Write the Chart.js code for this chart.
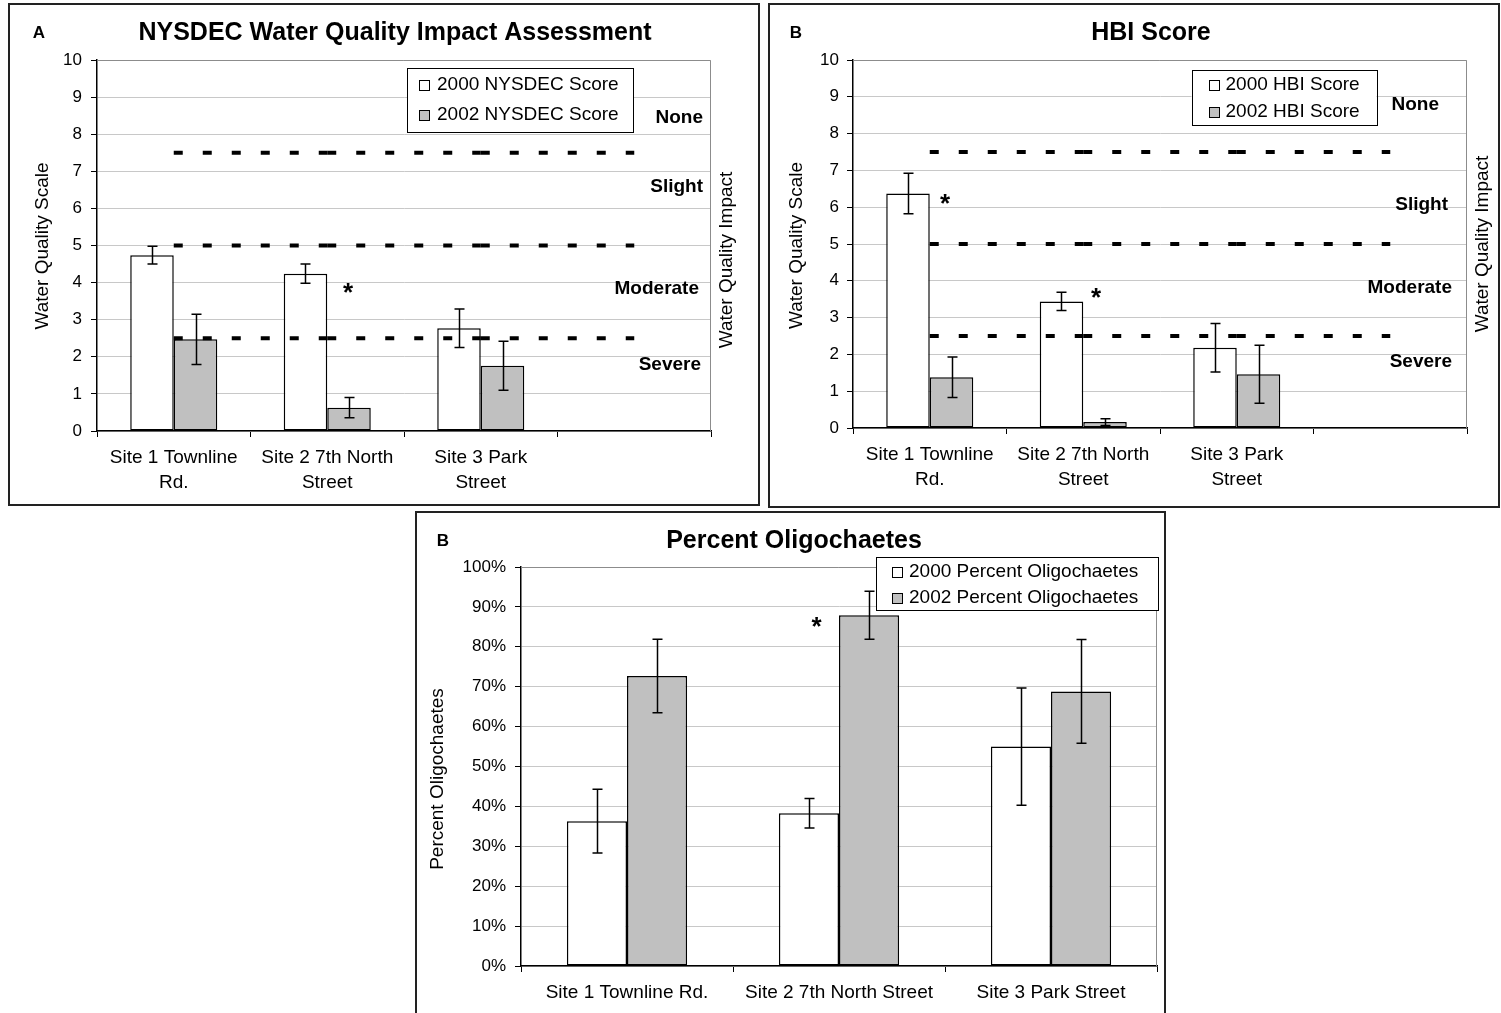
<!DOCTYPE html>
<html>
<head>
<meta charset="utf-8">
<script src="https://cdn.jsdelivr.net/npm/chart.js@4.4.1/dist/chart.umd.min.js"></script>
<style>
  html, body { margin: 0; padding: 0; background: #fff; }
  body { width: 1501px; height: 1013px; position: relative; overflow: hidden; }
  .box { position: absolute; box-sizing: border-box; border: 2px solid #222; }
  canvas { position: absolute; }
</style>
</head>
<body>
<div class="box" style="left:8px;top:3px;width:752px;height:503px"></div>
<div class="box" style="left:768px;top:3px;width:732px;height:505px"></div>
<div class="box" style="left:415px;top:511px;width:751px;height:520px"></div>
<canvas id="chartA" width="746" height="497" style="left:10px;top:6px"></canvas>
<canvas id="chartB" width="726" height="499" style="left:770px;top:6px"></canvas>
<canvas id="chartC" width="745" height="499" style="left:418px;top:514px"></canvas>
<script>
const FONT = "'Liberation Sans', Arial, sans-serif";
Chart.defaults.font.family = FONT;
Chart.defaults.color = '#000';

// categories (4th slot is empty on the score charts)
const sites = [['Site 1 Townline', 'Rd.'], ['Site 2 7th North', 'Street'], ['Site 3 Park', 'Street'], ''];
const sitesC = ['Site 1 Townline Rd.', 'Site 2 7th North Street', 'Site 3 Park Street'];
const impactLevels = ['None', 'Slight', 'Moderate', 'Severe'];

// impact boundaries drawn as dashed lines
const lineNoneSlight = [7.5, 7.5, 7.5, 7.5];
const lineSlightModerate = [5, 5, 5, 5];
const lineModerateSevere = [2.5, 2.5, 2.5, 2.5];

// A: NYSDEC score
const nysdec2000 = [4.74, 4.24, 2.77];
const nysdec2000Err = [0.24, 0.26, 0.52];
const nysdec2002 = [2.47, 0.63, 1.76];
const nysdec2002Err = [0.68, 0.27, 0.66];
const nysdecLevelAt = [8.43, 6.57, 3.83, 1.78];

// B: HBI score
const hbi2000 = [6.37, 3.44, 2.18];
const hbi2000Err = [0.55, 0.25, 0.66];
const hbi2002 = [1.38, 0.16, 1.46];
const hbi2002Err = [0.55, 0.09, 0.79];
const hbiLevelAt = [8.78, 6.06, 3.81, 1.80];

// C: percent oligochaetes
const oligo2000 = [36.3, 38.3, 55.0];
const oligo2000Err = [8.0, 3.7, 14.7];
const oligo2002 = [72.7, 87.9, 68.8];
const oligo2002Err = [9.2, 6.0, 13.0];

const scoreTicks = { min: 0, max: 10, step: 1 };
const pctTicks = { min: 0, max: 100, step: 10 };

// text and annotation placement per canvas
const decorCfg = {
  chartA: {
    letter: { text: 'A', x: 29, y: 27.5 },
    title: { text: 'NYSDEC Water Quality Impact Assessment', x: 385, y: 27 },
    yTitle: { text: 'Water Quality Scale', x: 32.5, y: 240 },
    rTitle: { text: 'Water Quality Impact', x: 717, y: 254 },
    legend: { x: 397, y: 62, w: 226, h: 64, rows: [78.5, 108.5], sq: 409, tx: 427 },
    levels: { values: nysdecLevelAt, dx: [-8, -8, -12, -10] },
    stars: [{ cat: 1, ds: 1, value: 3.87, dx: -1 }]
  },
  chartB: {
    letter: { text: 'B', x: 26, y: 27 },
    title: { text: 'HBI Score', x: 381, y: 27.3 },
    yTitle: { text: 'Water Quality Scale', x: 26.5, y: 239.5 },
    rTitle: { text: 'Water Quality Impact', x: 712.7, y: 238 },
    legend: { x: 421.5, y: 64, w: 185, h: 55, rows: [79, 105.7], sq: 439, tx: 455.5 },
    levels: { values: hbiLevelAt, dx: [-28, -19, -15, -15] },
    stars: [{ cat: 0, ds: 1, value: 6.24, dx: -6.5 }, { cat: 1, ds: 1, value: 3.66, dx: -9 }]
  },
  chartC: {
    letter: { text: 'B', x: 25, y: 27.3 },
    title: { text: 'Percent Oligochaetes', x: 376, y: 27.5 },
    yTitle: { text: 'Percent Oligochaetes', x: 19.5, y: 265 },
    legend: { x: 458, y: 43.3, w: 282, h: 53.4, rows: [57.7, 83.7], sq: 474, tx: 491 },
    stars: [{ cat: 1, ds: 0, value: 86.3, dx: 7.5 }]
  }
};

const decor = {
  id: 'decor',
  beforeDatasetsDraw(chart) {
    const { ctx, chartArea: a } = chart;
    ctx.save();
    ctx.strokeStyle = '#8c8c8c';
    ctx.lineWidth = 1;
    ctx.beginPath();
    ctx.moveTo(a.left, a.top + 0.5);
    ctx.lineTo(a.right - 0.5, a.top + 0.5);
    ctx.lineTo(a.right - 0.5, a.bottom);
    ctx.stroke();
    ctx.restore();
  },
  afterDatasetsDraw(chart) {
    const { ctx } = chart;
    const y = chart.scales.y;
    ctx.save();
    ctx.strokeStyle = '#000';
    ctx.lineWidth = 1.5;
    chart.data.datasets.forEach((ds, i) => {
      if (!ds.errors) return;
      chart.getDatasetMeta(i).data.forEach((bar, j) => {
        const v = ds.data[j], e = ds.errors[j];
        const top = y.getPixelForValue(v + e), bot = y.getPixelForValue(v - e);
        const x = Math.round(bar.x) + 0.5;
        ctx.beginPath();
        ctx.moveTo(x, top); ctx.lineTo(x, bot);
        ctx.moveTo(x - 5, top); ctx.lineTo(x + 5, top);
        ctx.moveTo(x - 5, bot); ctx.lineTo(x + 5, bot);
        ctx.stroke();
      });
    });
    ctx.restore();
  },
  afterDraw(chart) {
    const cfg = decorCfg[chart.canvas.id];
    const { ctx, chartArea: a } = chart;
    const y = chart.scales.y;
    ctx.save();
    ctx.fillStyle = '#000';
    ctx.textBaseline = 'middle';

    ctx.textAlign = 'center';
    ctx.font = 'bold 17px ' + FONT;
    ctx.fillText(cfg.letter.text, cfg.letter.x, cfg.letter.y);
    ctx.font = 'bold 25px ' + FONT;
    ctx.fillText(cfg.title.text, cfg.title.x, cfg.title.y);

    ctx.font = '19px ' + FONT;
    [cfg.yTitle, cfg.rTitle].forEach(t => {
      if (!t) return;
      ctx.save();
      ctx.translate(t.x, t.y);
      ctx.rotate(-Math.PI / 2);
      ctx.fillText(t.text, 0, 0);
      ctx.restore();
    });

    if (cfg.levels) {
      ctx.font = 'bold 19px ' + FONT;
      ctx.textAlign = 'right';
      impactLevels.forEach((name, i) => {
        ctx.fillText(name, a.right + cfg.levels.dx[i], y.getPixelForValue(cfg.levels.values[i]));
      });
    }

    ctx.font = 'bold 26px ' + FONT;
    ctx.textAlign = 'center';
    cfg.stars.forEach(s => {
      const bar = chart.getDatasetMeta(s.ds).data[s.cat];
      ctx.fillText('*', bar.x + s.dx, y.getPixelForValue(s.value) + 6);
    });

    const lg = cfg.legend;
    ctx.fillStyle = '#fff';
    ctx.fillRect(lg.x, lg.y, lg.w, lg.h);
    ctx.strokeStyle = '#000';
    ctx.lineWidth = 1;
    ctx.strokeRect(Math.round(lg.x) + 0.5, Math.round(lg.y) + 0.5, Math.round(lg.w), Math.round(lg.h));
    ctx.font = '19px ' + FONT;
    ctx.textAlign = 'left';
    chart.data.datasets.filter(ds => ds.type === 'bar').forEach((ds, i) => {
      const ry = lg.rows[i];
      ctx.fillStyle = ds.backgroundColor;
      ctx.fillRect(lg.sq, Math.round(ry - 5), 10, 10);
      ctx.strokeRect(lg.sq + 0.5, Math.round(ry - 5) + 0.5, 10, 10);
      ctx.fillStyle = '#000';
      ctx.fillText(ds.label, lg.tx, ry);
    });
    ctx.restore();
  }
};

function barSet(label, data, errors, color) {
  return {
    type: 'bar', label, data, errors,
    backgroundColor: color, borderColor: '#000', borderWidth: 1.5, borderSkipped: false,
    barPercentage: 1, categoryPercentage: 0.567, order: 1
  };
}

function levelLine(data) {
  return {
    type: 'line', label: '', data,
    borderColor: '#000', borderWidth: 4, borderDash: [9, 20], borderCapStyle: 'butt',
    pointRadius: 0, pointHoverRadius: 0, pointHitRadius: 0, fill: false, order: 0,
    // stroke each segment on its own so the dash restarts at every category
    segment: { borderDashOffset: c => (c.p0DataIndex % 2) * 0.01 }
  };
}

function makeChart(id, labels, datasets, range, tickFmt, lay) {
  return new Chart(document.getElementById(id), {
    data: { labels, datasets },
    plugins: [decor],
    options: {
      responsive: false,
      animation: false,
      events: [],
      layout: { padding: { left: 0, top: lay.top, right: lay.right, bottom: 0 } },
      plugins: { legend: { display: false }, tooltip: { enabled: false }, title: { display: false } },
      scales: {
        x: {
          offset: true,
          grid: { offset: true, drawOnChartArea: false, tickLength: 6, color: '#000', z: -1 },
          border: { color: '#000', width: 1.5 },
          ticks: {
            padding: 8.5, maxRotation: 0, autoSkip: false, color: '#000',
            font: { size: 19, lineHeight: 1.3 }
          },
          afterFit: s => { s.height = lay.xh; }
        },
        y: {
          min: range.min, max: range.max,
          grid: { color: '#c8c8c8', tickColor: '#000', tickLength: 6, z: -1 },
          border: { color: '#000', width: 1.5 },
          ticks: { stepSize: range.step, padding: lay.tp, color: '#000', font: { size: 17 }, callback: tickFmt },
          afterFit: s => { s.width = lay.yw; }
        }
      }
    }
  });
}

const plain = v => v;

makeChart('chartA', sites, [
  barSet('2000 NYSDEC Score', nysdec2000, nysdec2000Err, '#ffffff'),
  barSet('2002 NYSDEC Score', nysdec2002, nysdec2002Err, '#c0c0c0'),
  levelLine(lineNoneSlight), levelLine(lineSlightModerate), levelLine(lineModerateSevere)
], scoreTicks, plain, { top: 54, right: 45, yw: 87, xh: 72, tp: 9 });

makeChart('chartB', sites, [
  barSet('2000 HBI Score', hbi2000, hbi2000Err, '#ffffff'),
  barSet('2002 HBI Score', hbi2002, hbi2002Err, '#c0c0c0'),
  levelLine(lineNoneSlight), levelLine(lineSlightModerate), levelLine(lineModerateSevere)
], scoreTicks, plain, { top: 54, right: 29, yw: 83, xh: 77, tp: 8 });

makeChart('chartC', sitesC, [
  barSet('2000 Percent Oligochaetes', oligo2000, oligo2000Err, '#ffffff'),
  barSet('2002 Percent Oligochaetes', oligo2002, oligo2002Err, '#c0c0c0')
], pctTicks, v => v + '%', { top: 53, right: 6, yw: 103, xh: 47, tp: 9 });
</script>
</body>
</html>
